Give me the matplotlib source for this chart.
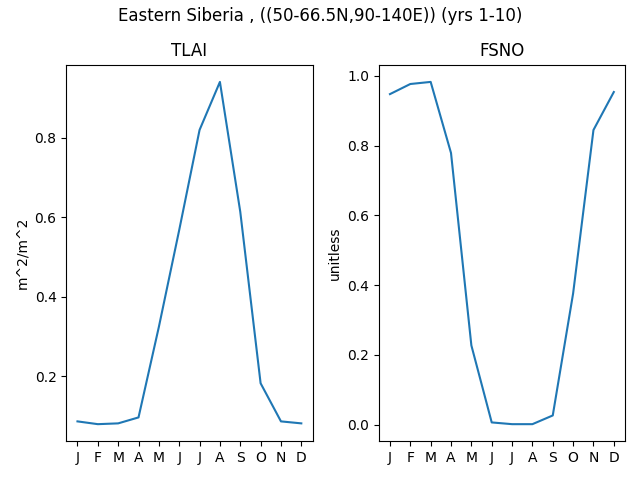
import matplotlib
matplotlib.use("Agg")
import matplotlib.pyplot as plt

months = ["J", "F", "M", "A", "M", "J", "J", "A", "S", "O", "N", "D"]
tlai = [0.086, 0.079, 0.081, 0.096, 0.324, 0.568, 0.820, 0.941, 0.614, 0.182, 0.086, 0.081]
fsno = [0.948, 0.977, 0.983, 0.779, 0.227, 0.006, 0.001, 0.001, 0.026, 0.376, 0.845, 0.954]

fig, axes = plt.subplots(1, 2, figsize=(6.4, 4.8), dpi=100)
x = list(range(len(months)))

axes[0].plot(x, tlai)
axes[0].set_title("TLAI")
axes[0].set_ylabel("m^2/m^2")
axes[0].set_xticks(x)
axes[0].set_xticklabels(months)

axes[1].plot(x, fsno)
axes[1].set_title("FSNO")
axes[1].set_ylabel("unitless")
axes[1].set_xticks(x)
axes[1].set_xticklabels(months)

fig.suptitle("Eastern Siberia , ((50-66.5N,90-140E)) (yrs 1-10)", y=0.985)
fig.tight_layout()
fig.subplots_adjust(top=0.865)
fig.savefig("out.png")
